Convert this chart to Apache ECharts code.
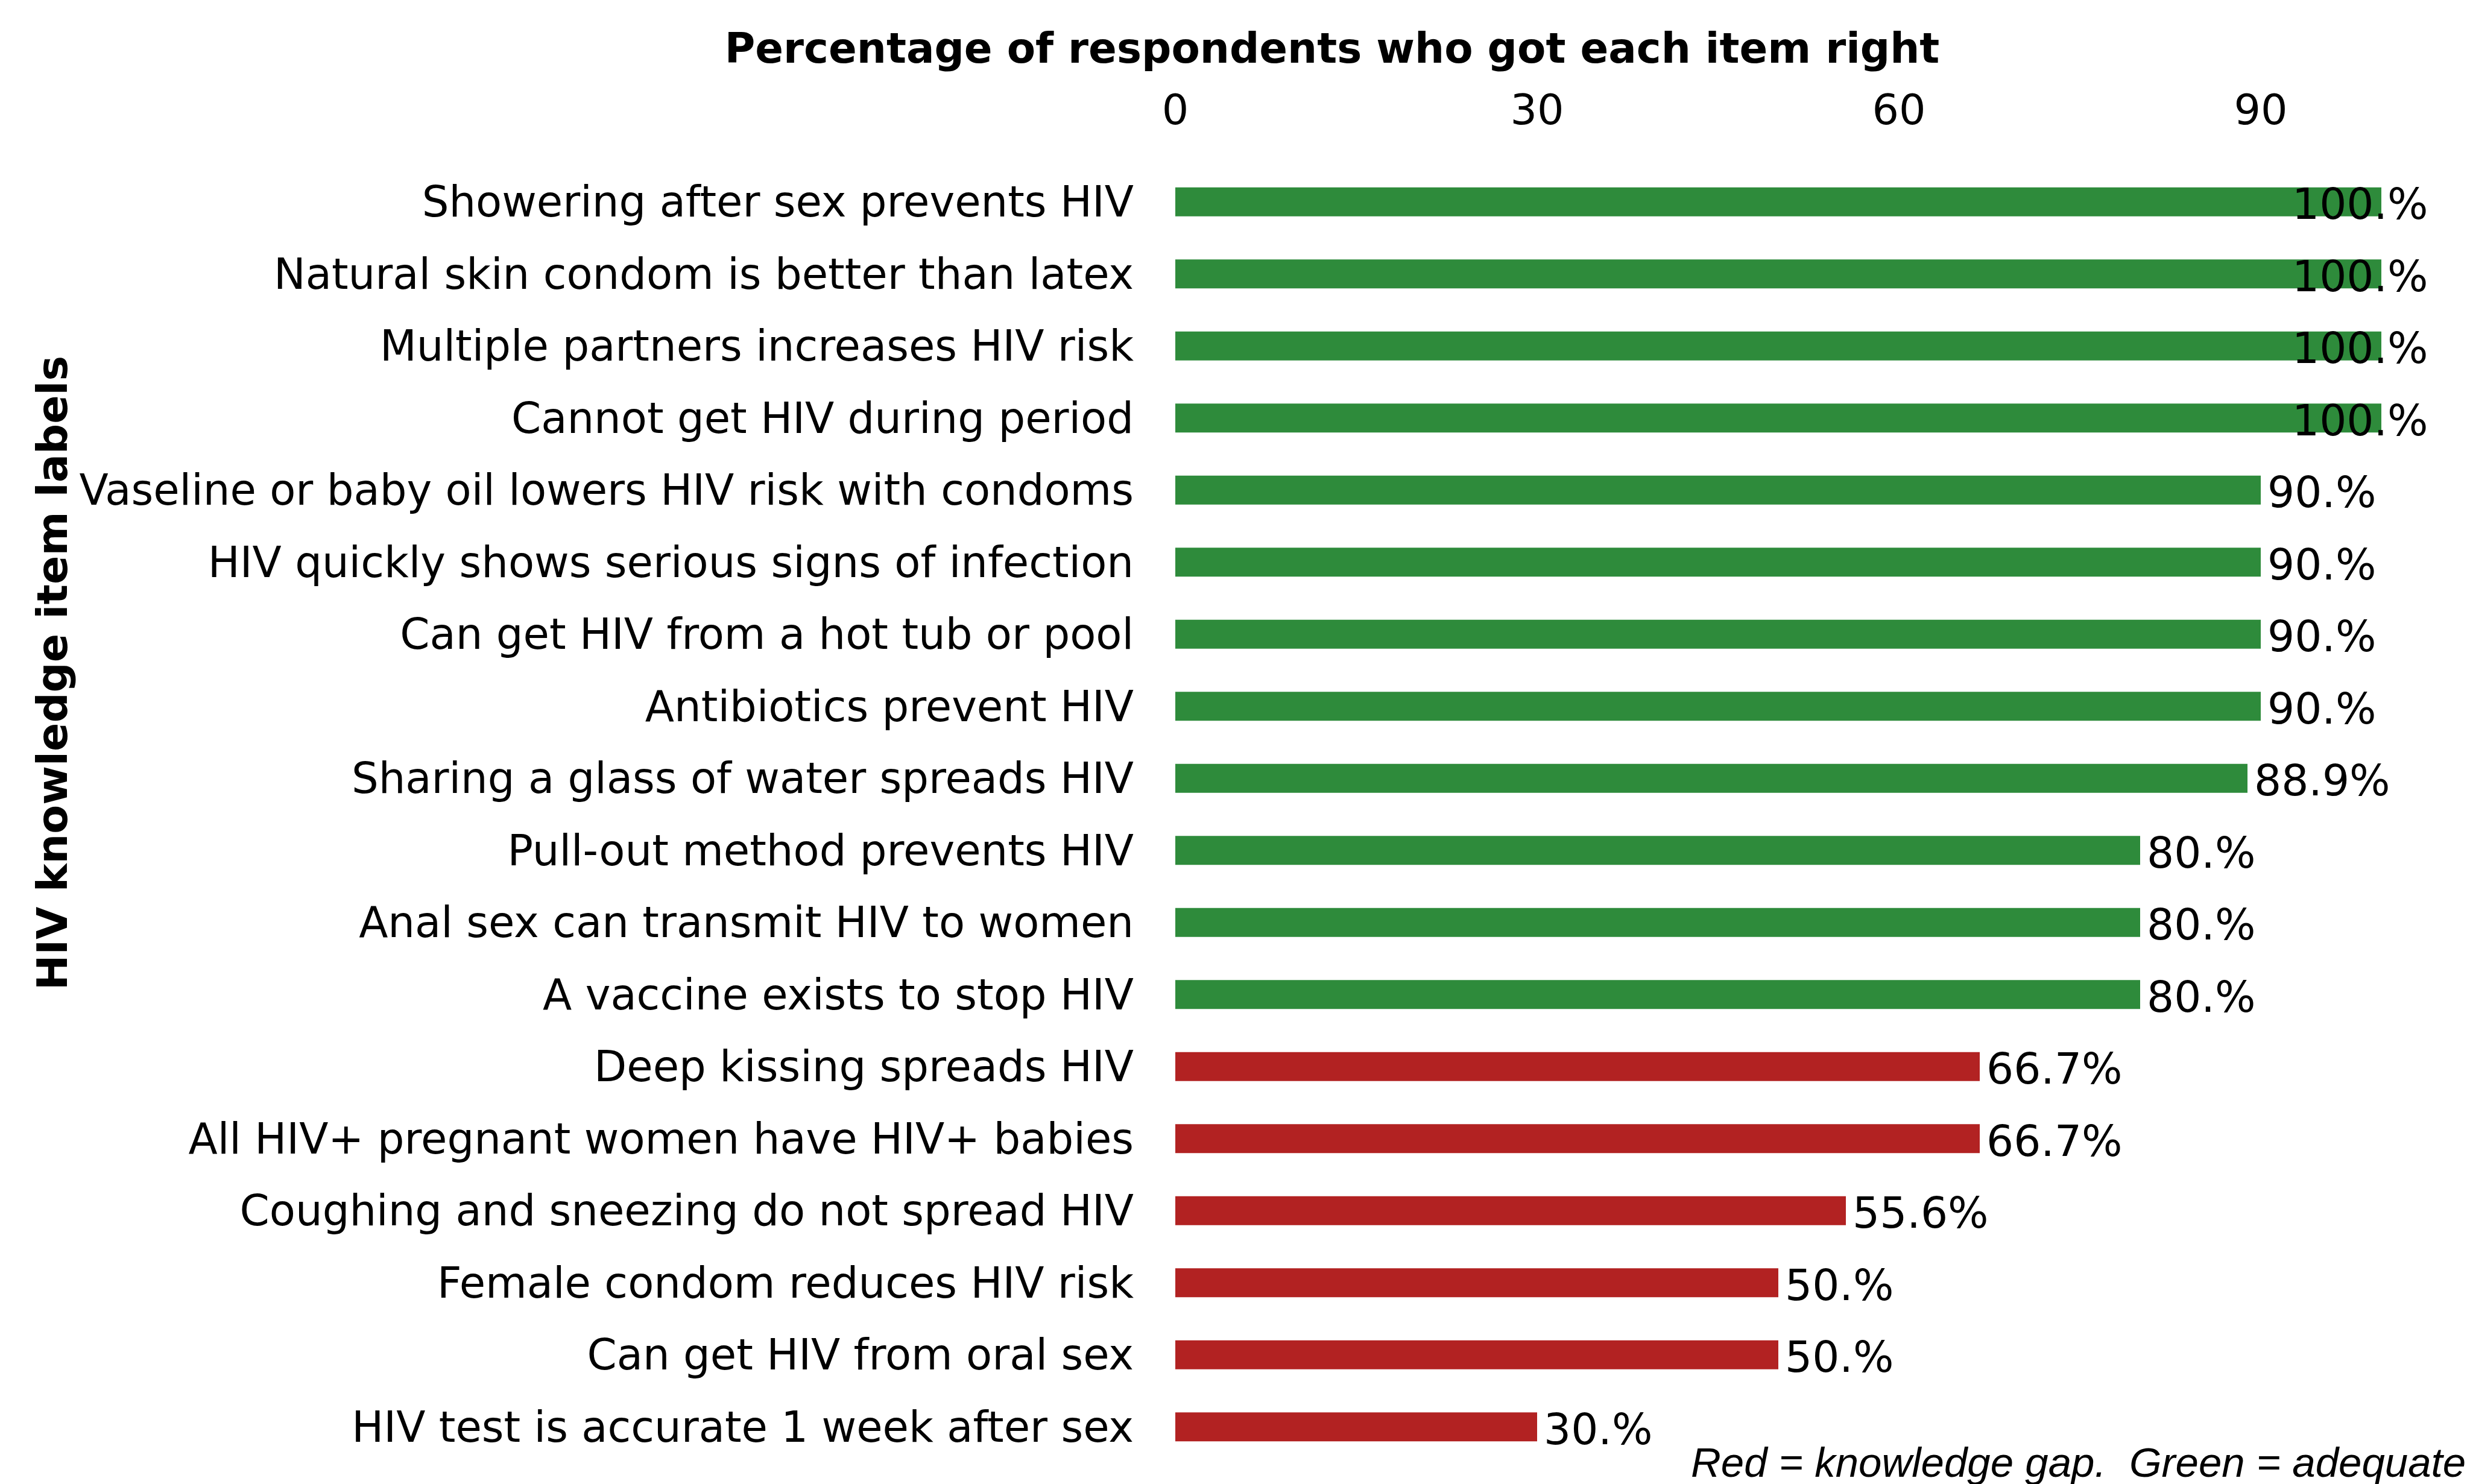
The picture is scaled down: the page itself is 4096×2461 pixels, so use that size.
<!DOCTYPE html>
<html><head><meta charset="utf-8">
<script src="https://cdn.jsdelivr.net/npm/echarts@6/dist/echarts.min.js"></script>
<style>html,body{margin:0;padding:0;background:#fff}#c{width:4096px;height:2461px}</style>
</head><body><div id="c"></div>
<script>
const categories = [
  'Showering after sex prevents HIV',
  'Natural skin condom is better than latex',
  'Multiple partners increases HIV risk',
  'Cannot get HIV during period',
  'Vaseline or baby oil lowers HIV risk with condoms',
  'HIV quickly shows serious signs of infection',
  'Can get HIV from a hot tub or pool',
  'Antibiotics prevent HIV',
  'Sharing a glass of water spreads HIV',
  'Pull-out method prevents HIV',
  'Anal sex can transmit HIV to women',
  'A vaccine exists to stop HIV',
  'Deep kissing spreads HIV',
  'All HIV+ pregnant women have HIV+ babies',
  'Coughing and sneezing do not spread HIV',
  'Female condom reduces HIV risk',
  'Can get HIV from oral sex',
  'HIV test is accurate 1 week after sex'
];
const values = [100, 100, 100, 100, 90, 90, 90, 90, 88.9, 80, 80, 80, 66.7, 66.7, 55.6, 50, 50, 30];
const status = ['adequate','adequate','adequate','adequate','adequate','adequate','adequate','adequate','adequate','adequate','adequate','adequate','gap','gap','gap','gap','gap','gap'];
const xTickValues = [0, 30, 60, 90];
const xAxisTitle = 'Percentage of respondents who got each item right';
const yAxisTitle = 'HIV knowledge item labels';
const caption = 'Red = knowledge gap.  Green = adequate';

const GREEN = '#2E8B3B', RED = '#B22222';
const FONT = '"DejaVu Sans", Verdana, sans-serif';
const chart = echarts.init(document.getElementById('c'), null, {renderer: 'canvas'});
const fmt = v => (Number.isInteger(v) ? v + '.%' : v + '%');
const data = values.map((v, i) => ({
  value: v,
  itemStyle: {color: status[i] === 'gap' ? RED : GREEN},
  label: {offset: [v >= 100 ? -159 : 0, 10]}
}));
chart.setOption({
  animation: false,
  backgroundColor: '#fff',
  grid: {left: 1949, right: 147, top: 275, bottom: 35, containLabel: false},
  xAxis: {
    type: 'value', position: 'top', min: 0, max: 100, interval: 30,
    axisLine: {show: false}, axisTick: {show: false}, splitLine: {show: false},
    axisLabel: {fontFamily: FONT, fontSize: 70, color: '#000', margin: 52,
      formatter: v => xTickValues.includes(v) ? String(v) : ''}
  },
  yAxis: {
    type: 'category', data: categories, inverse: true,
    axisLine: {show: false}, axisTick: {show: false}, splitLine: {show: false},
    axisLabel: {interval: 0, fontFamily: FONT, fontSize: 70.5, color: '#000', margin: 69,
      verticalAlign: 'top', lineHeight: 12}
  },
  series: [{
    type: 'bar', data: data, barWidth: 48,
    label: {show: true, position: 'right', distance: 11, fontFamily: FONT, fontSize: 71, color: '#000',
      formatter: p => fmt(p.value)}
  }],
  graphic: [
    {type: 'text', x: 2209, y: 86, style: {text: xAxisTitle, fill: '#000', font: 'bold 69px ' + FONT, align: 'center', verticalAlign: 'middle'}},
    {type: 'text', x: 93, y: 1116, rotation: Math.PI / 2, style: {text: yAxisTitle, fill: '#000', font: 'bold 70px ' + FONT, align: 'center', verticalAlign: 'middle'}},
    {type: 'text', x: 2804, y: 2430, style: {text: caption, fill: '#000', font: 'italic 69px "Liberation Sans", Arial, sans-serif', align: 'left', verticalAlign: 'middle'}}
  ]
});
</script></body></html>
